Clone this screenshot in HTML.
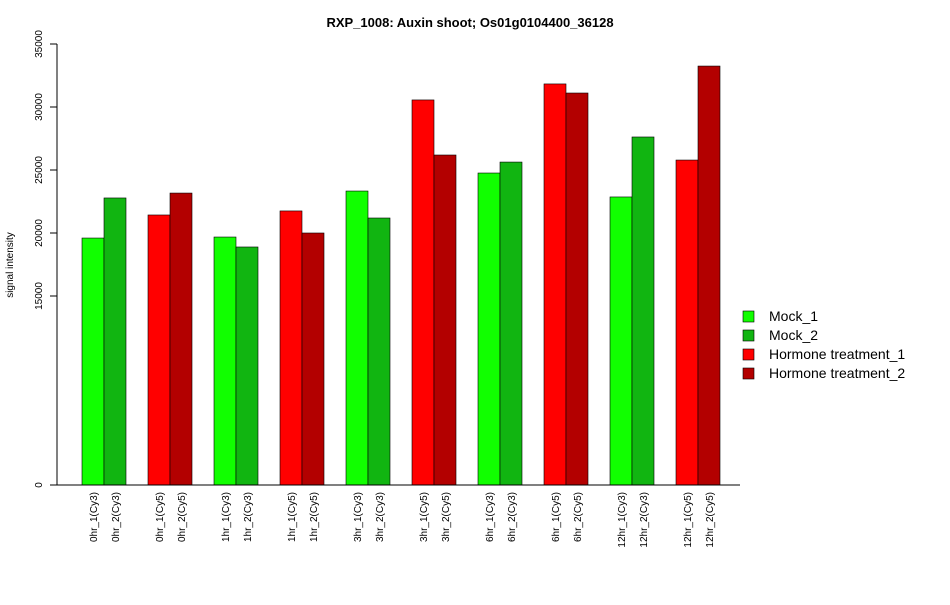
<!DOCTYPE html>
<html><head><meta charset="utf-8"><style>
body{margin:0;background:#fff;font-family:"Liberation Sans",sans-serif;}
</style></head><body>
<svg id="chart" width="950" height="600" xmlns="http://www.w3.org/2000/svg" font-family="Liberation Sans, sans-serif">
<text x="470" y="27" text-anchor="middle" font-size="13" font-weight="bold">RXP_1008: Auxin shoot; Os01g0104400_36128</text>
<text transform="translate(13,265) rotate(-90)" text-anchor="middle" font-size="10">signal intensity</text>
<g id="bars"></g><g id="yaxis"></g><g id="xlabels"></g>
<line x1="57" y1="485" x2="740" y2="485" stroke="#000"/>
<g font-size="14">
<rect x="743" y="311" width="11" height="11" fill="#11ff00" stroke="#000" stroke-width="0.6"/><text x="769" y="321">Mock_1</text>
<rect x="743" y="330" width="11" height="11" fill="#11b511" stroke="#000" stroke-width="0.6"/><text x="769" y="340">Mock_2</text>
<rect x="743" y="349" width="11" height="11" fill="#ff0000" stroke="#000" stroke-width="0.6"/><text x="769" y="359">Hormone treatment_1</text>
<rect x="743" y="368" width="11" height="11" fill="#b30000" stroke="#000" stroke-width="0.6"/><text x="769" y="378">Hormone treatment_2</text>
</g>
</svg>
<script>
const categories=["0hr_1(Cy3)","0hr_2(Cy3)","0hr_1(Cy5)","0hr_2(Cy5)","1hr_1(Cy3)","1hr_2(Cy3)","1hr_1(Cy5)","1hr_2(Cy5)","3hr_1(Cy3)","3hr_2(Cy3)","3hr_1(Cy5)","3hr_2(Cy5)","6hr_1(Cy3)","6hr_2(Cy3)","6hr_1(Cy5)","6hr_2(Cy5)","12hr_1(Cy3)","12hr_2(Cy3)","12hr_1(Cy5)","12hr_2(Cy5)"];
const values=[19600,22780,21430,23170,19680,18890,21750,20000,23330,21190,30560,26190,24760,25630,31830,31110,22860,27620,25790,33250];
const seriesIdx=[0,1,2,3,0,1,2,3,0,1,2,3,0,1,2,3,0,1,2,3];
const colors=["#11ff00","#11b511","#ff0000","#b30000"];
const yTicks=[0,15000,20000,25000,30000,35000];
const NS="http://www.w3.org/2000/svg";
function y(v){return 485-v*0.0126;}
function x(i){return 82+Math.floor(i/2)*66+(i%2)*22;}
const bars=document.getElementById('bars'),xl=document.getElementById('xlabels'),ya=document.getElementById('yaxis');
values.forEach((v,i)=>{
 const r=document.createElementNS(NS,'rect');
 
 
 r.setAttribute('x',x(i));r.setAttribute('y',y(v));r.setAttribute('width',22);r.setAttribute('height',485-y(v));
 r.setAttribute('fill',colors[seriesIdx[i]]);r.setAttribute('stroke','#000');r.setAttribute('stroke-width','0.6');
 bars.appendChild(r);
 const t=document.createElementNS(NS,'text');
 
 
 const cx=x(i)+11+4;
 t.setAttribute('transform','translate('+cx+',492) rotate(-90)');
 t.setAttribute('text-anchor','end');t.setAttribute('font-size','10');
 t.textContent=categories[i];xl.appendChild(t);
});
const ax=document.createElementNS(NS,'line');


ax.setAttribute('x1',57);ax.setAttribute('x2',57);ax.setAttribute('y1',y(0));ax.setAttribute('y2',y(35000));ax.setAttribute('stroke','#000');
ya.appendChild(ax);
yTicks.forEach(v=>{
 const l=document.createElementNS(NS,'line');
 
 
 l.setAttribute('x1',50);l.setAttribute('x2',57);l.setAttribute('y1',y(v));l.setAttribute('y2',y(v));l.setAttribute('stroke','#000');
 ya.appendChild(l);
 const t=document.createElementNS(NS,'text');
 
 
 t.setAttribute('transform','translate(42,'+y(v)+') rotate(-90)');
 t.setAttribute('text-anchor','middle');t.setAttribute('font-size','10');
 t.textContent=v;ya.appendChild(t);
});
</script>
</body></html>
